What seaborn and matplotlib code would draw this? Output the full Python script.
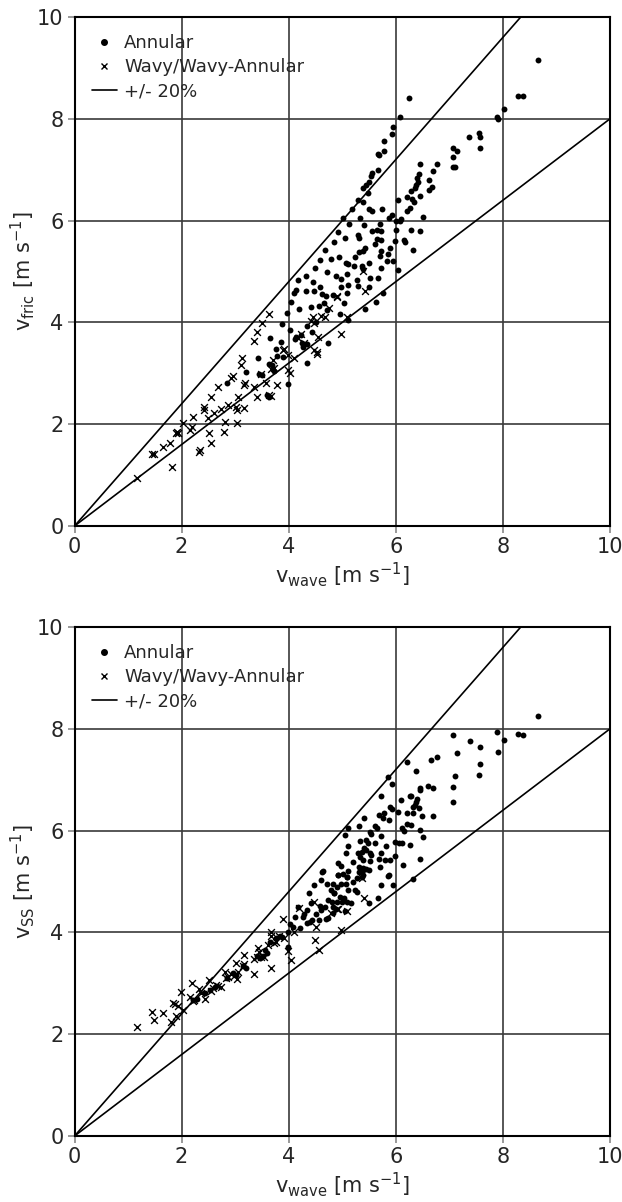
import numpy as np
import matplotlib
matplotlib.use("Agg")
import matplotlib.pyplot as plt
import seaborn as sns

# ---------------- data ----------------
# Panel 1: v_wave vs v_fric
p1_wavy = [(1.17,0.95),(1.82,1.15),(1.45,1.41),(1.48,1.41),(1.65,1.56),(1.79,1.63),(1.91,1.85),(1.94,1.82),(1.90,1.83),
    (2.02,2.02),(2.15,1.89),(2.21,2.15),(2.19,1.95),(2.33,1.46),(2.35,1.50),(2.54,1.63),(2.52,1.83),(2.42,2.34),(2.41,2.28),
    (2.49,2.12),(2.61,2.21),(2.55,2.54),(2.67,2.74),(2.81,2.04),(2.80,1.85),(2.74,2.29),(2.86,2.38),(2.95,2.95),(2.92,2.90),
    (3.02,2.34),(3.04,2.28),(3.05,2.54),(3.17,2.31),(3.03,2.03),(3.11,3.16),(3.13,3.31),(3.18,2.80),(3.17,2.76),(3.36,2.74),
    (3.41,2.54),(3.36,3.64),(3.41,3.82),(3.50,3.98),(3.64,4.16),(3.48,2.98),(3.58,2.80),(3.67,2.55),(3.64,2.58),(3.73,3.10),
    (3.67,3.08),(3.78,2.77),(3.91,3.47),(3.98,3.06),(4.03,3.00),(4.10,3.31),(3.98,3.36),(4.23,3.78),(4.17,3.70),(4.29,3.59),
    (4.48,3.46),(4.53,3.38),(4.42,4.03),(4.45,4.11),(4.47,3.98),(4.60,4.12),(4.67,4.11),(4.76,4.28),(4.91,4.51),(4.98,3.78),
    (4.55,3.72),(4.52,3.42),(3.71,3.26),(5.38,5.00),(5.42,4.61),(5.08,4.11),(4.90,4.49),(3.90,3.46)]

p1_annular = [(8.65,9.16),(6.25,8.40),(6.08,8.04),(5.94,7.83),(5.92,7.71),(5.78,7.56),(5.78,7.37),(5.67,7.31),(5.69,7.29),
    (5.67,7.00),(5.55,6.93),(5.53,6.88),(5.50,6.76),(5.45,6.70),(5.39,6.63),(5.48,6.54),(5.30,6.41),(5.38,6.37),(5.19,6.22),
    (5.50,6.22),(5.55,6.19),(5.02,6.05),(5.34,6.05),(5.13,5.93),(5.41,5.91),(4.92,5.78),(4.85,5.58),(5.05,5.66),(5.30,5.72),
    (5.32,5.65),(4.79,5.25),(4.94,5.28),(5.07,5.16),(5.10,5.14),(5.21,5.10),(5.23,5.29),(5.32,5.38),(5.39,5.41),(5.42,5.46),
    (5.36,5.10),(5.38,5.04),(4.89,4.91),(5.08,4.95),(5.50,5.16),(5.56,5.80),(5.65,5.81),(5.73,5.79),(5.70,5.94),(5.75,6.22),
    (5.87,6.06),(5.92,6.11),(5.64,5.63),(5.73,5.62),(5.61,5.53),(5.73,5.41),(5.70,5.31),(5.89,5.46),(5.86,5.35),(5.83,5.20),
    (5.73,5.06),(5.51,4.87),(5.67,4.88),(5.95,5.20),(6.04,5.03),(5.98,5.60),(6.00,5.81),(6.00,6.00),(6.10,6.03),(6.07,5.99),
    (6.04,6.40),(6.15,5.61),(6.17,5.58),(6.28,5.81),(6.32,5.42),(6.20,6.19),(6.26,6.24),(6.21,6.46),(6.31,6.42),(6.33,6.37),
    (6.29,6.58),(6.35,6.63),(6.38,6.70),(6.41,6.76),(6.40,6.83),(6.43,6.91),(6.46,7.12),(6.46,6.48),(6.50,6.07),(6.46,5.80),
    (6.62,6.79),(6.61,6.60),(6.68,6.66),(6.69,6.98),(6.77,7.11),(7.06,7.43),(7.15,7.37),(7.06,7.24),(7.06,7.06),(7.11,7.05),
    (7.37,7.64),(7.55,7.73),(7.58,7.65),(7.58,7.42),(7.88,8.04),(7.90,8.00),(8.02,8.19),(8.28,8.45),(8.38,8.45),
    (4.05,4.41),(3.96,4.19),(3.87,3.97),(4.09,4.57),(4.17,4.83),(4.33,4.62),(4.46,4.79),(4.49,5.06),(4.59,4.70),(4.58,5.23),
    (4.67,5.42),(4.72,4.99),(4.66,4.38),(4.70,4.52),(4.42,4.31),(4.19,4.26),(4.33,4.91),(4.44,3.82),(4.50,4.01),(4.63,4.56),
    (4.56,4.32),(4.73,3.60),(4.34,3.20),(4.35,3.93),(4.24,3.59),(4.26,3.52),(4.11,3.67),(4.14,3.72),(4.02,3.85),(3.85,3.62),
    (3.77,3.48),(3.90,3.32),(3.65,3.69),(4.98,4.86),(4.98,4.70),(5.10,4.73),(5.04,4.38),(4.96,4.17),(5.11,4.05),(5.08,4.57),
    (5.27,4.84),(5.29,4.72),(5.49,4.70),(5.42,4.26),(5.76,4.57),(5.63,4.41),(4.83,4.54),
    (2.85,2.80),(3.20,3.03),(3.42,3.31),(3.45,2.98),(3.50,2.97),(3.64,3.19),(3.69,3.17),(3.59,2.57),(3.64,2.54),(3.73,3.05),
    (3.79,3.33),(3.98,2.79),(4.14,4.63),(4.22,3.75),(4.34,3.57),(4.48,4.62),(4.71,4.25)]

# Panel 2: v_wave vs v_ss
p2_wavy = [(1.17,2.15),(1.44,2.44),(1.49,2.28),(1.65,2.41),(1.80,2.24),(1.83,2.61),(1.87,2.59),(1.93,2.55),(1.90,2.36),
    (1.98,2.82),(2.02,2.47),(2.15,2.74),(2.19,3.00),(2.21,2.66),(2.23,2.67),(2.33,2.88),(2.36,2.80),(2.43,2.70),(2.52,3.06),
    (2.55,2.84),(2.58,2.90),(2.64,2.97),(2.67,2.95),(2.74,2.92),(2.81,3.23),(2.83,3.10),(2.87,3.12),(2.92,3.19),(2.97,3.14),
    (3.02,3.39),(3.03,3.08),(3.05,3.23),(3.14,3.33),(3.17,3.38),(3.17,3.55),(3.36,3.19),(3.35,3.47),(3.41,3.51),(3.45,3.62),
    (3.42,3.69),(3.48,3.52),(3.54,3.52),(3.66,3.30),(3.67,4.00),(3.66,3.92),(3.61,3.75),(3.72,3.80),(3.76,3.82),(3.89,4.26),
    (3.82,3.92),(3.98,3.63),(4.04,3.46),(4.20,4.47),(4.47,4.60),(4.51,4.10),(4.49,3.86),(4.57,3.65),(4.98,4.05),(4.91,4.45),
    (4.79,4.39),(4.10,4.01),(3.92,3.88),(5.36,5.06),(5.41,4.67),(4.92,4.45),(5.08,4.43)]

p2_annular = [(4.18,4.50),(4.27,4.31),(4.11,4.31),(4.02,4.16),(4.08,4.11),(4.21,4.08),(3.98,4.01),(3.83,3.93),(3.88,3.91),
    (3.77,3.88),(3.98,3.72),(3.65,3.82),(3.55,3.65),(3.59,3.59),(3.52,3.53),(3.40,3.53),(3.46,3.50),(3.15,3.33),(3.21,3.30),
    (2.96,3.20),(3.02,3.16),(2.84,3.10),(2.62,2.93),(2.53,2.87),(2.43,2.80),(2.28,2.70),(2.22,2.67),
    (4.35,4.18),(4.43,4.24),(4.35,4.44),(4.42,4.57),(4.38,4.77),(4.47,4.93),(4.60,5.03),(4.71,4.96),(4.79,4.83),(4.85,4.77),
    (4.91,4.90),(4.98,4.96),(4.63,5.19),(4.73,4.64),(4.91,4.60),(5.04,4.67),(5.16,4.57),(5.10,4.83),(4.60,4.44),(4.51,4.37),
    (4.57,4.24),(4.73,4.28),(4.82,4.50),(4.29,4.37),(4.59,4.52),(4.67,4.49),(4.69,4.26),(4.39,4.21),
    (5.95,4.93),(5.86,5.11),(5.72,4.93),(5.67,4.67),(5.50,4.58),(5.23,4.83),(5.28,4.80),(5.08,5.09),(5.07,4.96),(5.20,4.99),
    (4.92,5.13),(5.01,5.15),(4.83,4.95),(4.84,4.77),(4.80,4.60),(4.83,4.39),(4.95,4.70),(5.00,4.60),(5.08,4.60),(5.05,4.43),
    (4.89,4.45),(5.31,5.19),(5.39,5.22),(6.32,5.05),
    (6.77,7.44),(6.65,7.39),(6.20,7.35),(6.37,7.18),(5.86,7.06),(5.92,6.91),(6.60,6.87),(6.69,6.83),(6.45,6.83),(6.46,6.79),
    (5.73,6.68),(6.26,6.68),(6.29,6.67),(6.09,6.60),(6.40,6.63),(6.38,6.57),(6.35,6.50),(6.32,6.47),(6.43,6.44),(5.89,6.46),
    (5.92,6.42),(6.04,6.37),(6.20,6.34),(6.32,6.35),(6.48,6.29),(6.69,6.29),(5.69,6.31),(5.77,6.34),(5.76,6.24),(5.88,6.20),
    (6.21,6.13),(6.29,6.11),(5.40,6.24),(5.31,6.09),(5.61,6.09),(5.64,6.05),(6.12,6.05),(6.15,6.00),(6.45,6.01),(5.10,6.05),
    (5.06,5.91),(5.51,5.97),(5.54,5.94),(5.73,5.90),(5.99,5.78),(6.05,5.76),(6.11,5.76),(6.50,5.88),(5.45,5.82),(5.48,5.75),
    (5.33,5.80),(6.27,5.72),(5.11,5.70),(5.61,5.76),(5.45,5.62),(5.40,5.65),(5.82,5.69),(5.30,5.56),(5.36,5.58),(5.51,5.55),
    (5.54,5.52),(5.73,5.55),(5.99,5.50),(5.07,5.56),(5.33,5.48),(5.38,5.42),(5.20,5.39),(5.51,5.41),(5.69,5.45),(5.79,5.42),
    (5.89,5.42),(6.14,5.32),(6.46,5.44),(4.92,5.36),(4.98,5.31),(5.31,5.29),(5.39,5.26),(5.50,5.23),(5.45,5.24),(5.11,5.21),
    (5.70,5.28),(4.64,5.21),(4.92,5.12),(5.08,5.09),(5.36,5.09),(5.39,5.12),(5.88,5.12),(5.28,5.06),
    (8.65,8.25),(7.06,7.88),(7.38,7.76),(7.58,7.65),(7.88,7.94),(8.02,7.78),(8.28,7.89),(8.37,7.88),(7.90,7.54),(7.58,7.30),
    (7.55,7.09),(7.15,7.52),(7.10,7.08),(7.06,6.86),(7.06,6.57)]

# +/- 20 % reference lines
line_x = [0, 10]
line_plus = [0, 12]
line_minus = [0, 8]

ticks = [0, 2, 4, 6, 8, 10]
legend_labels = ["Annular", "Wavy/Wavy-Annular", "+/- 20%"]
xlabel = r"v$_{\mathrm{wave}}$ [m s$^{-1}$]"
ylabels = [r"v$_{\mathrm{fric}}$ [m s$^{-1}$]", r"v$_{\mathrm{SS}}$ [m s$^{-1}$]"]

# ---------------- style ----------------
sns.set_style("white")
plt.rcParams["font.family"] = ["DejaVu Sans"]
plt.rcParams["mathtext.default"] = "regular"

fig = plt.figure(figsize=(6.22, 12.02), dpi=100)
ax1 = fig.add_axes([0.1198, 0.5624, 0.861, 0.4235])
ax2 = fig.add_axes([0.1198, 0.0549, 0.861, 0.4235])

panels = [(ax1, p1_annular, p1_wavy, ylabels[0]), (ax2, p2_annular, p2_wavy, ylabels[1])]
for ax, ann, wav, ylab in panels:
    ann = np.array(ann)
    wav = np.array(wav)
    ax.set_axisbelow(True)
    ax.grid(True, color="#3a3a3a", linewidth=1.2)
    sns.lineplot(x=line_x, y=line_plus, color="black", linewidth=1.2, ax=ax, label="_nolegend_")
    sns.lineplot(x=line_x, y=line_minus, color="black", linewidth=1.2, ax=ax, label="_nolegend_")
    sns.scatterplot(x=ann[:, 0], y=ann[:, 1], marker="o", color="black", s=18, linewidth=0, ax=ax)
    sns.scatterplot(x=wav[:, 0], y=wav[:, 1], marker="x", color="black", s=24, linewidth=1.0, ax=ax)
    ax.set_xlim(0, 10)
    ax.set_ylim(0, 10)
    ax.set_xticks(ticks)
    ax.set_yticks(ticks)
    ax.tick_params(axis="both", which="both", direction="out", length=5, width=1.2,
                   color="#888888", labelsize=15, pad=3, bottom=True, left=True)
    for sp in ax.spines.values():
        sp.set_visible(True)
        sp.set_color("black")
        sp.set_linewidth(1.5)
    ax.set_xlabel(xlabel, fontsize=15)
    ax.set_ylabel(ylab, fontsize=15)
    ax.xaxis.set_label_coords(0.5, -0.068)
    ax.yaxis.set_label_coords(-0.07, 0.5)
    h_dot = plt.Line2D([], [], marker="o", color="black", linestyle="none", markersize=4)
    h_x = plt.Line2D([], [], marker="x", color="black", linestyle="none", markersize=4.5, markeredgewidth=1.0)
    h_line = plt.Line2D([], [], color="black", linewidth=1.2)
    leg = ax.legend([h_dot, h_x, h_line], legend_labels, loc="upper left", frameon=False,
                    fontsize=13, handlelength=1.4, handletextpad=0.4, labelspacing=0.33,
                    borderaxespad=0.55, borderpad=0.4)

fig.savefig("out.png", dpi=100)
